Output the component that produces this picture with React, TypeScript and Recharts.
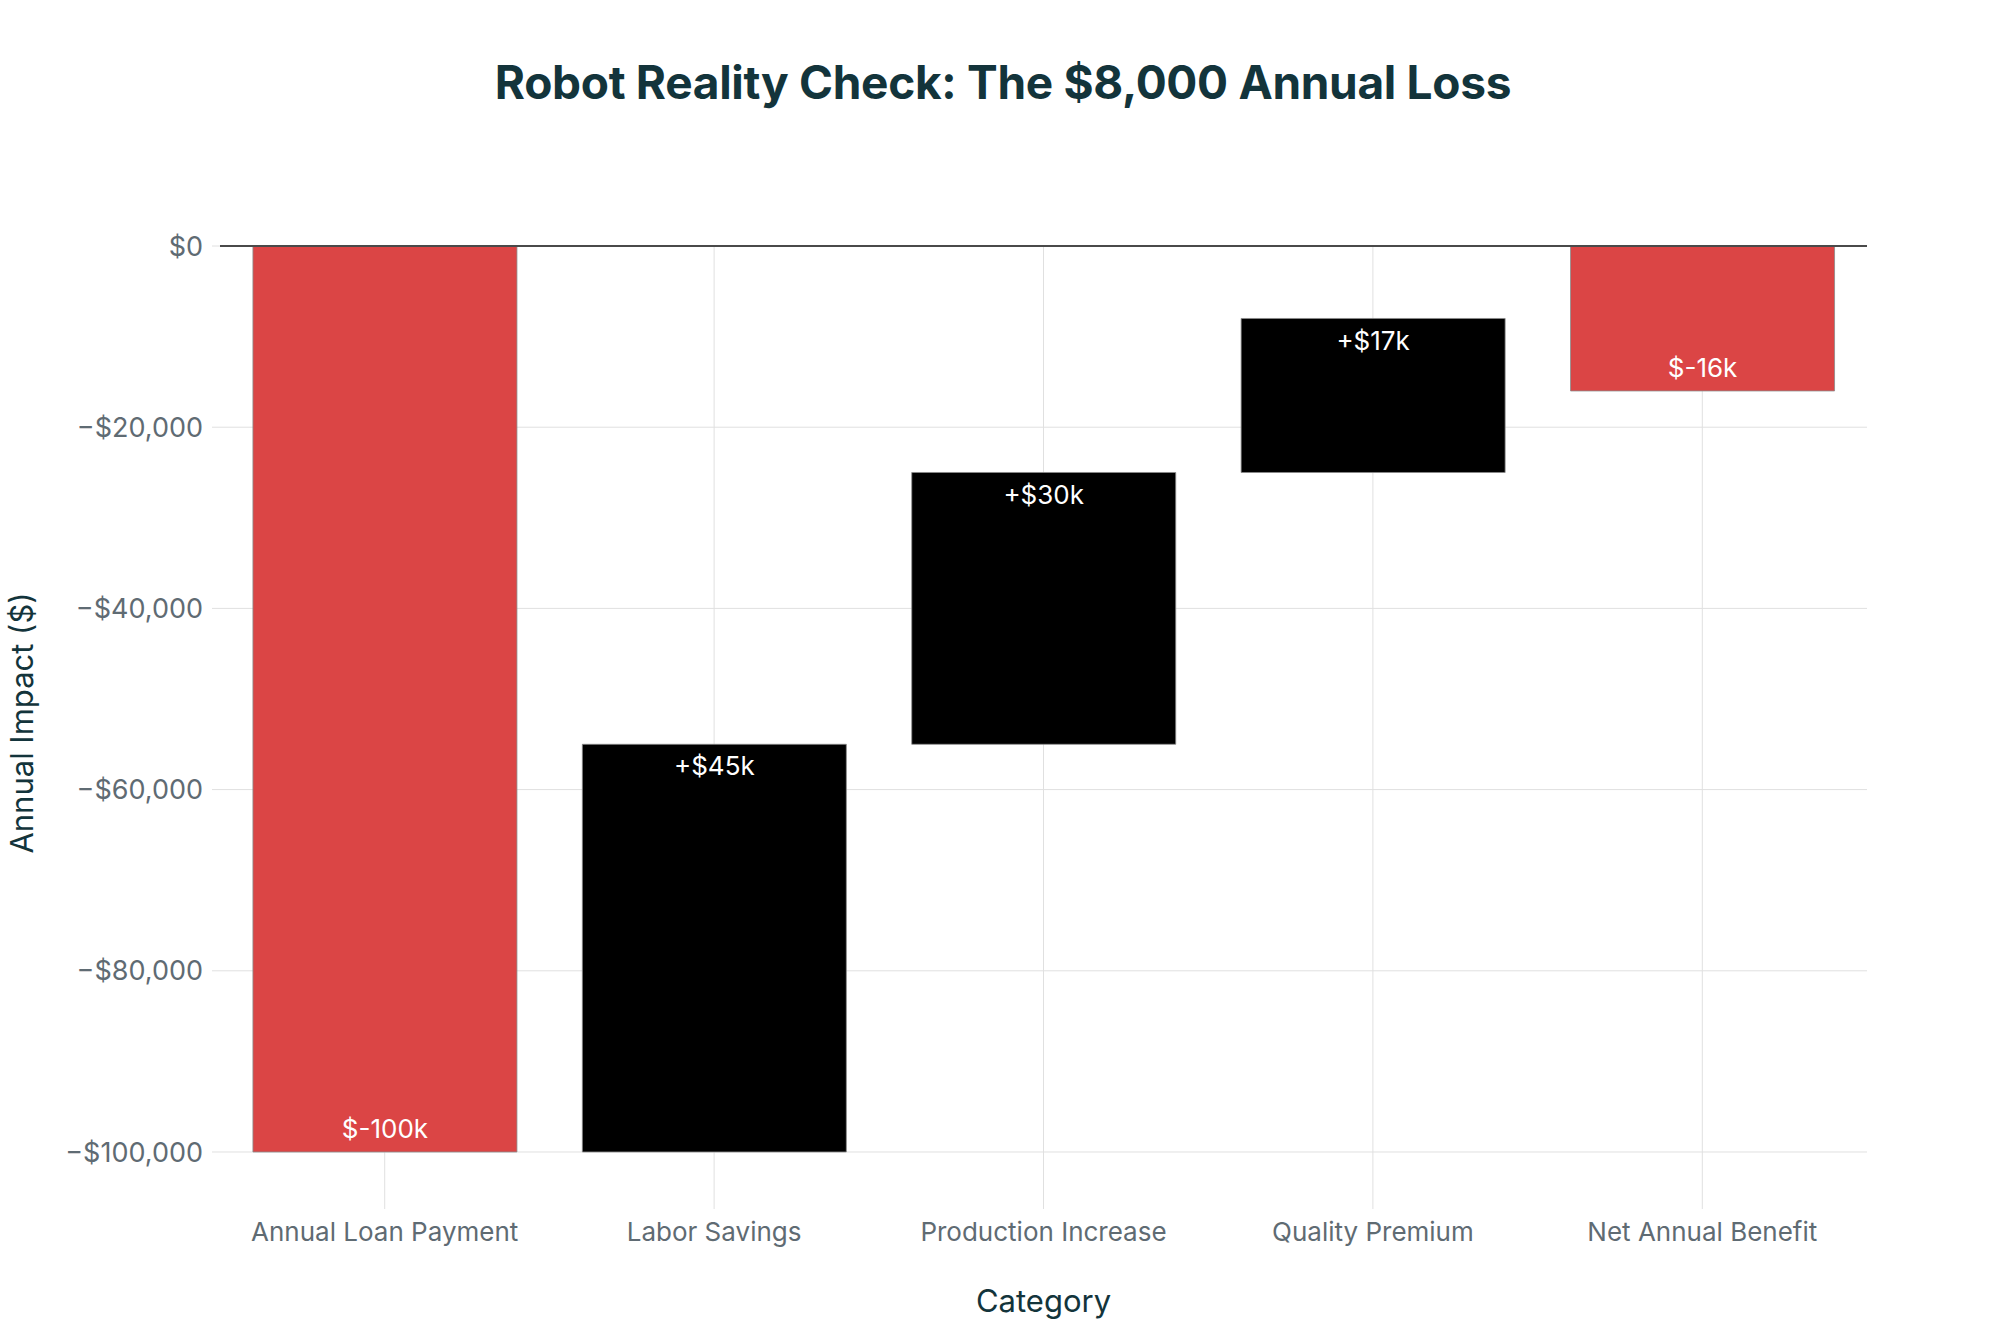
import { BarChart, Bar, Cell, XAxis, YAxis, CartesianGrid, ReferenceLine, LabelList } from 'recharts';

const categories = ['Annual Loan Payment', 'Labor Savings', 'Production Increase', 'Quality Premium', 'Net Annual Benefit'];
const barLows = [-100000, -100000, -55000, -25000, -16000];
const barHighs = [0, -55000, -25000, -8000, 0];
const barLabels = ['$-100k', '+$45k', '+$30k', '+$17k', '$-16k'];
const barKinds = ['total', 'increase', 'increase', 'increase', 'total'];
const yTicks = [0, -20000, -40000, -60000, -80000, -100000];

const data = categories.map((name, i) => ({
  name,
  range: [barLows[i], barHighs[i]],
  label: barLabels[i],
  kind: barKinds[i],
}));

const FONT = 'Inter, "Noto Sans", sans-serif';
const RED = '#DB4545';
const TITLE_COLOR = '#13343B';
const TICK_COLOR = '#5F6B73';

const formatY = (v: number) => (v === 0 ? '$0' : '\u2212$' + Math.abs(v).toLocaleString('en-US'));

// white label inside the bar: top end for increases, bottom end for totals
const BarLabel = (props: any) => {
  const { x, y, width, height, index } = props;
  const top = Math.min(y, y + height);
  const bottom = Math.max(y, y + height);
  const d = data[index];
  const cy = d.kind === 'increase' ? top + 22 : bottom - 23;
  return (
    <text x={x + width / 2} y={cy} dy="0.35em" textAnchor="middle" fill="#fff" fontSize={26} fontFamily={FONT}>
      {d.label}
    </text>
  );
};

const YTitle = (props: any) => {
  const { viewBox } = props;
  const cy = viewBox.y + viewBox.height / 2;
  return (
    <text x={22} y={cy} transform={`rotate(-90, 22, ${cy})`} dy="0.35em" textAnchor="middle" fill={TITLE_COLOR} fontSize={31} fontFamily={FONT}>
      Annual Impact ($)
    </text>
  );
};

export default function App() {
  return (
    <div style={{ position: 'absolute', left: 0, top: 0, width: 2000, height: 1333, background: '#fff', fontFamily: FONT }}>
      <div
        style={{
          position: 'absolute',
          top: 54,
          left: 0,
          width: 2006,
          textAlign: 'center',
          fontSize: 46,
          fontWeight: 700,
          color: TITLE_COLOR,
          letterSpacing: -0.3,
        }}
      >
        Robot Reality Check: The $8,000 Annual Loss
      </div>
      <BarChart
        width={2000}
        height={1333}
        data={data}
        margin={{ top: 246, right: 133, bottom: 0, left: 0 }}
        barCategoryGap="10%"
      >
        <CartesianGrid stroke="#E0E0E0" strokeWidth={1} syncWithTicks />
        <XAxis
          dataKey="name"
          height={133}
          axisLine={false}
          tickLine={{ stroke: '#E0E0E0' }}
          tickSize={9}
          tickMargin={14}
          tick={{ fill: TICK_COLOR, fontSize: 26, fontFamily: FONT }}
          label={{ value: 'Category', position: 'insideBottom', offset: 21, fill: TITLE_COLOR, fontSize: 31, fontFamily: FONT }}
        />
        <YAxis
          width={220}
          domain={[-105300, 0]}
          ticks={yTicks}
          tickFormatter={formatY}
          axisLine={false}
          tickLine={{ stroke: '#E0E0E0' }}
          tickSize={8}
          tickMargin={9}
          tick={{ fill: TICK_COLOR, fontSize: 27, fontFamily: FONT }}
          label={<YTitle />}
          allowDataOverflow
        />
        <ReferenceLine y={0} stroke="#4A4A4A" strokeWidth={2} />
        <Bar dataKey="range" isAnimationActive={false} stroke="#8A8A8A" strokeWidth={0.8}>
          {data.map((d, i) => (
            <Cell key={i} fill={d.kind === 'increase' ? '#000000' : RED} />
          ))}
          <LabelList dataKey="label" content={<BarLabel />} />
        </Bar>
      </BarChart>
    </div>
  );
}
